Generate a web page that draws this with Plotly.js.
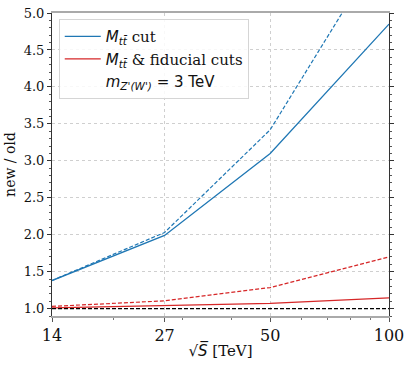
<!DOCTYPE html>
<html><head><meta charset="utf-8">
<script src="https://cdn.plot.ly/plotly-3.0.1.min.js"></script>
<style>html,body{margin:0;padding:0;background:#fff}#chart{width:411px;height:366px}</style>
</head><body><div id="chart"></div>
<script>
const energies = [14, 27, 50, 100];
const mttCut = [1.38, 1.99, 3.10, 4.85];
const mttCutDashed = [1.38, 2.03, 3.42, 6.03];
const fidCut = [1.01, 1.04, 1.07, 1.145];
const fidCutDashed = [1.03, 1.105, 1.285, 1.70];
const reference = [1.0, 1.0, 1.0, 1.0];
const xTickLabels = ['14', '27', '50', '100'];
const xMinorTicks = [20, 30, 40, 60, 70, 80, 90];

const blue = '#1f77b4', red = '#d62728';
const sans = s => '<span style="font-family:DejaVu Sans">' + s + '</span>';
const serif = s => '<span style="font-family:DejaVu Serif">' + s + '</span>';
const traces = [
  {x: energies, y: mttCut, mode: 'lines', line: {color: blue, width: 1.3},
   name: sans('<i>M</i>') + sans('<sub><i>tt̄</i></sub>') + serif(' cut')},
  {x: energies, y: fidCut, mode: 'lines', line: {color: red, width: 1.3},
   name: sans('<i>M</i>') + sans('<sub><i>tt̄</i></sub>') + serif(' &amp; fiducial cuts')},
  {x: [null], y: [null], mode: 'lines', line: {color: 'rgba(0,0,0,0)', width: 0},
   name: sans('<i>m</i>') + sans('<sub><i>Z\'(W\')</i></sub>') + sans(' = 3 TeV')},
  {x: energies, y: mttCutDashed, mode: 'lines', line: {color: blue, width: 1.2, dash: '4px,2px'}, showlegend: false},
  {x: energies, y: fidCutDashed, mode: 'lines', line: {color: red, width: 1.2, dash: '4px,2px'}, showlegend: false},
  {x: energies, y: reference, mode: 'lines', line: {color: '#000', width: 1.1, dash: '4px,2px'}, showlegend: false}
];
const layout = {
  width: 411, height: 366,
  margin: {l: 52, r: 22, t: 13, b: 50},
  paper_bgcolor: '#fff', plot_bgcolor: '#fff',
  font: {family: 'DejaVu Serif', color: '#111', size: 13},
  showlegend: true,
  legend: {x: 0.02, y: 0.98, xanchor: 'left', yanchor: 'top', bgcolor: 'rgba(255,255,255,0.85)',
           bordercolor: '#d5d5d5', borderwidth: 1, font: {family: 'DejaVu Serif', size: 15},
           tracegroupgap: 0, itemwidth: 36},
  xaxis: {type: 'log', range: [Math.log10(14), Math.log10(100)],
          tickvals: energies, ticktext: xTickLabels, tickfont: {size: 16},
          ticks: 'outside', ticklen: 4, tickcolor: '#555',
          showgrid: true, gridcolor: '#cfcfcf', griddash: 'dot', gridwidth: 1,
          showline: true, linecolor: '#aaaaaa', linewidth: 2, mirror: true, zeroline: false,
          minor: {tickvals: xMinorTicks, ticks: 'outside', ticklen: 2, tickcolor: '#777', showgrid: false},
          title: {text: serif('√') + sans('<i>S̅</i>') + serif(' [TeV]'), font: {size: 15}, standoff: 1}},
  yaxis: {range: [0.9, 5.0], tickvals: [1.0,1.5,2.0,2.5,3.0,3.5,4.0,4.5,5.0],
          ticktext: ['1.0','1.5','2.0','2.5','3.0','3.5','4.0','4.5','5.0'], tickfont: {size: 13},
          ticks: 'outside', ticklen: 4, tickcolor: '#333',
          showgrid: true, gridcolor: '#cfcfcf', griddash: 'dot', gridwidth: 1,
          showline: true, linecolor: '#333', linewidth: 1, mirror: 'allticks', zeroline: false,
          minor: {dtick: 0.1, ticks: 'outside', ticklen: 2, tickcolor: '#555', showgrid: false},
          title: {text: 'new / old', font: {size: 14}, standoff: 4}}
};
Plotly.newPlot('chart', traces, layout, {displayModeBar: false, staticPlot: true});
</script></body></html>
